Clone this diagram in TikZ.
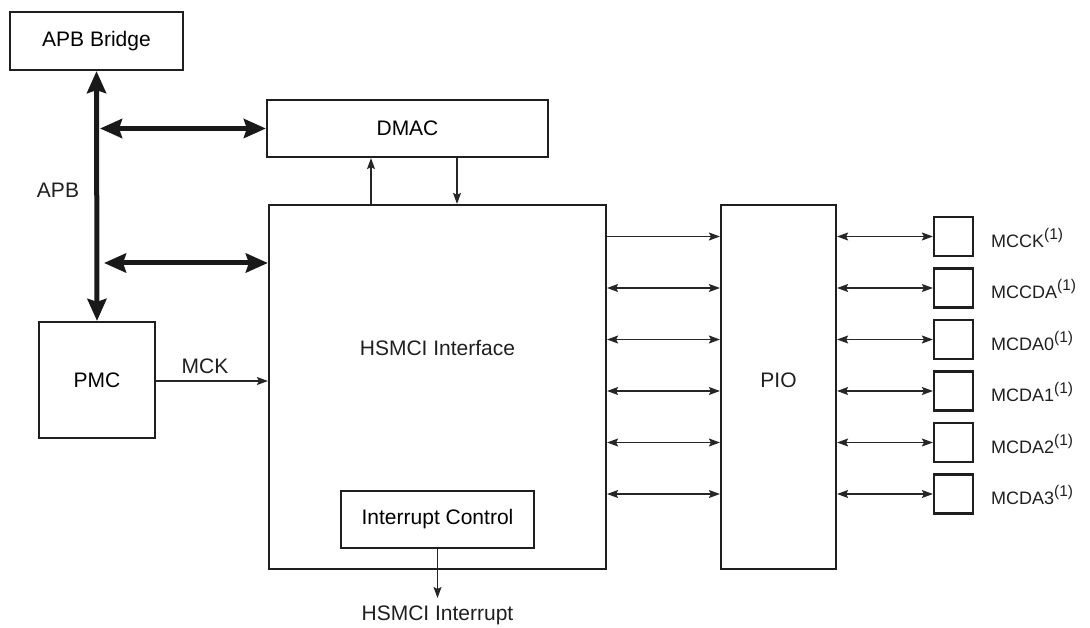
\documentclass[tikz,border=0pt]{standalone}
\usepackage{fontspec}
\setmainfont{Liberation Sans}
\usetikzlibrary{arrows.meta}
\begin{document}
\begin{tikzpicture}[x=1pt,y=-1pt,
  blk/.style={draw=black!88, line width=2.2pt, inner sep=0pt, font=\fontsize{21}{25}\selectfont},
  bus/.style={draw=black!90, line width=5pt, {Stealth[length=22pt,width=19pt,inset=3pt]}-{Stealth[length=22pt,width=19pt,inset=3pt]}},
  sig/.style={draw=black!85, line width=1.2pt, -{Stealth[length=11pt,width=8pt,inset=2pt]}},
  bsig/.style={draw=black!85, line width=1.2pt, {Stealth[length=11pt,width=8pt,inset=2pt]}-{Stealth[length=11pt,width=8pt,inset=2pt]}},
  lbl/.style={font=\fontsize{21}{25}\selectfont, inner sep=0pt, text=black!88},
  pinlbl/.style={font=\fontsize{18}{22}\selectfont, inner sep=0pt, anchor=west, text=black!88},
  pad/.style={draw=black!88, line width=2.2pt, minimum width=39pt, minimum height=39pt, inner sep=0pt}
]
\useasboundingbox (0,0) rectangle (1090,628);
\newcommand{\supone}{\raisebox{8pt}{\fontsize{15.5}{17}\selectfont(1)}}

% blocks
\node[blk, minimum width=173pt, minimum height=58pt] (apb) at (96.5,41) {APB Bridge};
\node[blk, minimum width=281pt, minimum height=57pt] (dmac) at (407.5,128.5) {DMAC};
\node[blk, minimum width=337pt, minimum height=364pt] (hsmci) at (437.5,387) {};
\node[lbl] (hsmcilbl) at (437.5,348) {HSMCI Interface};
\node[blk, minimum width=116pt, minimum height=116pt] (pmc) at (97,380) {PMC};
\node[blk, minimum width=193pt, minimum height=57pt] (intc) at (437.5,519.5) {Interrupt Control};
\node[blk, minimum width=115pt, minimum height=364pt] (pio) at (778.5,387) {};
\node[lbl] (piolbl) at (778.5,380) {PIO};

% pads
\node[pad] (p1) at (953.5,236.5) {};
\node[pad] (p2) at (953.5,288) {};
\node[pad] (p3) at (953.5,339.5) {};
\node[pad] (p4) at (953.5,391) {};
\node[pad] (p5) at (953.5,442.5) {};
\node[pad] (p6) at (953.5,494) {};
\node[pinlbl] (l1) at (991,237.5) {MCCK\supone};
\node[pinlbl] (l2) at (991,289) {MCCDA\supone};
\node[pinlbl] (l3) at (991,340.5) {MCDA0\supone};
\node[pinlbl] (l4) at (991,392) {MCDA1\supone};
\node[pinlbl] (l5) at (991,443.5) {MCDA2\supone};
\node[pinlbl] (l6) at (991,495) {MCDA3\supone};

% labels
\node[lbl] (apblbl) at (58,190) {APB};
\node[lbl] (mcklbl) at (205,366) {MCK};
\node[lbl] (irqlbl) at (437.5,615) {HSMCI Interrupt};

% APB bus
\coordinate (b1) at (100,128.5);
\coordinate (b2) at (104,263);
\draw[bus] (apb.south) -- (pmc.north);
\draw[bus] (b1) -- (dmac.west);
\draw[bus] (b2) -- (hsmci.west |- b2);

% MCK
\coordinate (mckc) at (0,381);
\draw[sig] (pmc.east |- mckc) -- (hsmci.west |- mckc);

% DMAC <-> HSMCI
\coordinate (dup) at (371,0);
\coordinate (ddn) at (457,0);
\draw[sig] (hsmci.north -| dup) -- (dmac.south -| dup);
\draw[sig] (dmac.south -| ddn) -- (hsmci.north -| ddn);

% interrupt
\coordinate (irqend) at (437.5,598);
\draw[sig] (intc.south) -- (irqend);

% HSMCI <-> PIO
\draw[sig] (hsmci.east |- p1) -- (pio.west |- p1);
\foreach \p in {p2,p3,p4,p5,p6}
  \draw[bsig] (hsmci.east |- \p) -- (pio.west |- \p);

% PIO <-> pads
\foreach \p in {p1,p2,p3,p4,p5,p6}
  \draw[bsig] (pio.east |- \p) -- (\p.west);
\end{tikzpicture}
\end{document}
